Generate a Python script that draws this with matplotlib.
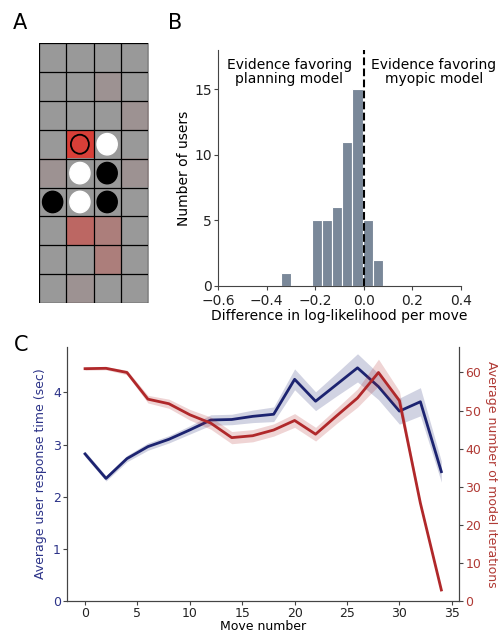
import numpy as np
import matplotlib
matplotlib.use('Agg')
import matplotlib.pyplot as plt
from matplotlib.patches import Circle

# ── Panel A: board state (9 rows x 4 columns) ─────────────────────────
n_rows, n_cols = 9, 4
# red tint per cell (0 = plain gray, 1 = full red)
tint = [
    [0.00, 0.00, 0.00, 0.00],
    [0.00, 0.00, 0.07, 0.00],
    [0.00, 0.00, 0.00, 0.07],
    [0.00, 1.00, 0.00, 0.00],
    [0.07, 0.00, 0.00, 0.07],
    [0.00, 0.00, 0.00, 0.00],
    [0.00, 0.55, 0.30, 0.00],
    [0.00, 0.00, 0.30, 0.00],
    [0.00, 0.07, 0.00, 0.00],
]
black_pieces = [(4, 2), (5, 0), (5, 2)]
white_pieces = [(3, 2), (4, 1), (5, 1)]
last_move = (3, 1)

# ── Panel B: histogram of log-likelihood differences ─────────────────
bin_edges = [-0.341, -0.299, -0.257, -0.215, -0.174, -0.133,
             -0.090, -0.047, -0.003, 0.038, 0.079]
bin_counts = [1, 0, 0, 5, 5, 6, 11, 15, 5, 2]

# ── Panel C: response time vs model iterations ───────────────────────
move_number = [0, 2, 4, 6, 8, 10, 12, 14, 16, 18, 20, 22, 24, 26, 28, 30, 32, 34]
response_time = [2.82, 2.35, 2.73, 2.96, 3.10, 3.28, 3.47, 3.48, 3.54,
                 3.58, 4.25, 3.83, 4.15, 4.47, 4.11, 3.64, 3.82, 2.48]
response_err = [0.05, 0.05, 0.06, 0.07, 0.07, 0.08, 0.10, 0.10, 0.12,
                0.14, 0.20, 0.18, 0.22, 0.27, 0.25, 0.25, 0.27, 0.20]
iterations = [61.0, 61.1, 60.0, 53.0, 51.8, 48.9, 46.7, 42.9, 43.4,
              44.9, 47.4, 43.8, 48.6, 53.3, 60.0, 52.6, 25.7, 2.9]
iterations_err = [0.4, 0.4, 0.6, 1.0, 1.2, 1.4, 1.6, 1.6, 1.6,
                  1.6, 1.8, 1.8, 2.0, 2.4, 3.5, 2.5, 0.5, 0.3]

GRAY = np.array([0.6, 0.6, 0.6])
RED = np.array([0.85, 0.25, 0.22])
NAVY = '#1c2370'
NAVY_TXT = '#2c3388'
CRIMSON = '#b0282a'
CRIMSON_TXT = '#b03a35'
SLATE = '#7a8899'
SPINE = '#444444'

plt.rcParams['font.family'] = 'DejaVu Sans'
plt.rcParams['font.size'] = 9

fig = plt.figure(figsize=(4.98, 6.32), dpi=100)

# ── A ────────────────────────────────────────────────────────────────
ax_a = fig.add_axes([0.0783, 0.5206, 0.219, 0.411])
a = np.array(tint)[:, :, None]
img = GRAY * (1 - a) + RED * a
ax_a.imshow(img, extent=(0, n_cols, n_rows, 0), aspect='auto',
            interpolation='nearest')
for r in range(n_rows + 1):
    ax_a.axhline(r, color='black', lw=0.9)
for c in range(n_cols + 1):
    ax_a.axvline(c, color='black', lw=0.9)
for r, c in black_pieces:
    ax_a.add_patch(Circle((c + 0.5, r + 0.5), 0.37, color='black', zorder=3))
for r, c in white_pieces:
    ax_a.add_patch(Circle((c + 0.5, r + 0.5), 0.37, color='white', zorder=3))
ax_a.add_patch(Circle((last_move[1] + 0.5, last_move[0] + 0.5), 0.33,
                      facecolor='none', edgecolor='black', lw=1.3, zorder=3))
ax_a.set_xlim(0, n_cols)
ax_a.set_ylim(n_rows, 0)
ax_a.axis('off')

# ── B ────────────────────────────────────────────────────────────────
ax_b = fig.add_axes([0.4378, 0.5475, 0.488, 0.3734])
widths = np.diff(bin_edges)
ax_b.bar(bin_edges[:-1], bin_counts, width=widths, align='edge',
         color=SLATE, edgecolor='white', lw=0.8)
ax_b.axvline(0, color='black', ls='--', lw=1.5)
ax_b.set_xlim(-0.6, 0.4)
ax_b.set_ylim(0, 18)
ax_b.set_xticks([-0.6, -0.4, -0.2, 0.0, 0.2, 0.4])
ax_b.set_yticks([0, 5, 10, 15])
ax_b.set_xlabel('Difference in log-likelihood per move', fontsize=10,
                labelpad=1)
ax_b.set_ylabel('Number of users', fontsize=10, labelpad=2)
ax_b.text(-0.307, 16.35, 'Evidence favoring\nplanning model', fontsize=10,
          ha='center', va='center', linespacing=1.0)
ax_b.text(0.288, 16.35, 'Evidence favoring\nmyopic model', fontsize=10,
          ha='center', va='center', linespacing=1.0)
for s in ('top', 'right'):
    ax_b.spines[s].set_visible(False)
for s in ('left', 'bottom'):
    ax_b.spines[s].set_color(SPINE)
ax_b.tick_params(colors=SPINE, labelcolor='#222222', length=3, labelsize=10)
ax_b.tick_params(axis='y', pad=1.5)
ax_b.tick_params(axis='x', pad=2.5)

# ── C ────────────────────────────────────────────────────────────────
ax_c = fig.add_axes([0.135, 0.049, 0.787, 0.402])
x = np.array(move_number)
rt = np.array(response_time)
rte = np.array(response_err)
ax_c.fill_between(x, rt - rte, rt + rte, color=NAVY, alpha=0.2, lw=0)
ax_c.plot(x, rt, color=NAVY, lw=2)
ax_c.set_xlim(-1.7, 35.7)
ax_c.set_ylim(0, 4.87)
ax_c.set_xticks(range(0, 36, 5))
ax_c.set_yticks([0, 1, 2, 3, 4])
ax_c.set_xlabel('Move number', labelpad=0)
ax_c.set_ylabel('Average user response time (sec)', color=NAVY_TXT, labelpad=4)
ax_c.tick_params(axis='y', colors=SPINE, labelcolor=NAVY_TXT, length=3, pad=1.5)
ax_c.tick_params(axis='x', colors=SPINE, labelcolor='#222222', length=3, pad=1.5)

ax_r = ax_c.twinx()
it = np.array(iterations)
ite = np.array(iterations_err)
ax_r.fill_between(x, it - ite, it + ite, color=CRIMSON, alpha=0.2, lw=0)
ax_r.plot(x, it, color=CRIMSON, lw=2)
ax_r.set_ylim(0, 66.7)
ax_r.set_yticks(range(0, 61, 10))
ax_r.set_ylabel('Average number of model iterations', color=CRIMSON_TXT,
                rotation=270, labelpad=12)
ax_r.tick_params(axis='y', colors=SPINE, labelcolor=CRIMSON_TXT, length=3, pad=1.5)

for ax in (ax_c, ax_r):
    ax.spines['top'].set_visible(False)
    for s in ('left', 'bottom', 'right'):
        ax.spines[s].set_color(SPINE)

# ── Panel letters ────────────────────────────────────────────────────
for lbl, px, py in (('A', 20, 23), ('B', 175, 23), ('C', 21, 345)):
    fig.text(px / 498, 1 - py / 632, lbl, fontsize=15,
             ha='center', va='center')

fig.savefig('out.png', dpi=100)
